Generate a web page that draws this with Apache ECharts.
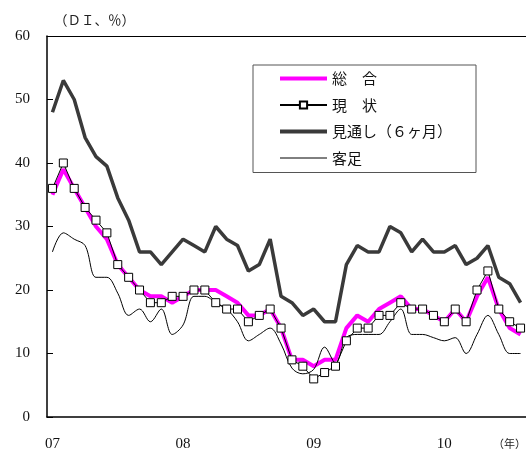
<!DOCTYPE html>
<html><head><meta charset="utf-8">
<script src="https://cdn.jsdelivr.net/npm/echarts@6/dist/echarts.min.js"></script>
<style>html,body{margin:0;padding:0;background:#fff}#c{width:526px;height:452px}</style>
</head><body><div id="c"></div>
<script>
const months = [
 '07-01','07-02','07-03','07-04','07-05','07-06','07-07','07-08','07-09','07-10','07-11','07-12',
 '08-01','08-02','08-03','08-04','08-05','08-06','08-07','08-08','08-09','08-10','08-11','08-12',
 '09-01','09-02','09-03','09-04','09-05','09-06','09-07','09-08','09-09','09-10','09-11','09-12',
 '10-01','10-02','10-03','10-04','10-05','10-06','10-07','10-08'];
const sogo   = [35,39,36,33,30,28,24,22,20,19,19,18,19,20,20,20,19,18,16,16,17,14,9,9,8,9,9,14,16,15,17,18,19,17,17,16,15,17,15,19,22,17,14,13];
const genjo  = [36,40,36,33,31,29,24,22,20,18,18,19,19,20,20,18,17,17,15,16,17,14,9,8,6,7,8,12,14,14,16,16,18,17,17,16,15,17,15,20,23,17,15,14];
const mitoshi= [48,53,50,44,41,39.5,34.5,31,26,26,24,26,28,27,26,30,28,27,23,24,28,19,18,16,17,15,15,24,27,26,26,30,29,26,28,26,26,27,24,25,27,22,21,18];
const kyakuashi=[26,29,28,27,22,22,19.5,16,17,15,17,13,14.5,19,19,18,17,15,12,13,14,11.5,7.7,6.8,7.5,11,8.5,12.5,13,13,13,15,17,13,13,12.5,12,12.5,10,13,16,13,10,10];
const yTicks = [0,10,20,30,40,50,60];
const names = ['総　合','現　状','見通し（６ヶ月）','客足'];

const chart = echarts.init(document.getElementById('c'), null, {renderer:'canvas'});
const serif = '"Liberation Serif","DejaVu Serif",serif';
const cjk = '"Noto Sans CJK JP","Noto Sans CJK SC",sans-serif';
chart.setOption({
  animation:false,
  backgroundColor:'#fff',
  grid:{left:47,top:36,right:0,bottom:35},
  legend:{
    left:253, top:65, orient:'vertical',
    data:[
      {name:names[0], itemStyle:{opacity:0}, lineStyle:{width:4, color:'#ff00ff'}},
      {name:names[1]},
      {name:names[2], itemStyle:{opacity:0}, lineStyle:{width:4, color:'#3a3a3a'}},
      {name:names[3], itemStyle:{opacity:0}, lineStyle:{width:1, color:'#000'}}
    ],
    itemWidth:47, itemHeight:9, itemGap:11.5,
    padding:[6,24,7,25],
    backgroundColor:'#fff', borderColor:'#555', borderWidth:1,
    textStyle:{fontFamily:cjk, fontSize:15, color:'#111'}
  },
  xAxis:[{
    type:'category', data:months, boundaryGap:true,
    axisLine:{lineStyle:{color:'#000',width:1.5}},
    axisTick:{interval:11, length:5, lineStyle:{color:'#000'}},
    axisLabel:{interval:11, margin:20, fontFamily:serif, fontSize:15, color:'#111',
      formatter:v=>v.slice(0,2)},
    splitLine:{show:false}
  },{
    type:'category', data:months, position:'top', boundaryGap:true,
    axisLine:{lineStyle:{color:'#000',width:1.2}},
    axisTick:{show:false}, axisLabel:{show:false}
  }],
  yAxis:{
    type:'value', min:yTicks[0], max:yTicks[yTicks.length-1], interval:10,
    axisLine:{show:true, lineStyle:{color:'#000',width:1.5}},
    axisTick:{show:true, inside:true, length:6, lineStyle:{color:'#000'}},
    axisLabel:{margin:17, fontFamily:serif, fontSize:15, color:'#111'},
    splitLine:{show:false}
  },
  graphic:[
    {type:'text', left:54, top:13, style:{text:'（ＤＩ、％）', font:'13.5px '+cjk, fill:'#222'}},
    {type:'text', right:0, top:438, style:{text:'（年）', font:'11px '+cjk, fill:'#222'}}
  ],
  series:[
    {name:names[0], type:'line', data:sogo, symbol:'none', z:2,
     lineStyle:{color:'#ff00ff', width:4}, itemStyle:{color:'#ff00ff'}},
    {name:names[2], type:'line', data:mitoshi, symbol:'none', z:3,
     lineStyle:{color:'#3a3a3a', width:3.5}, itemStyle:{color:'#3a3a3a'}},
    {name:names[3], type:'line', data:kyakuashi, symbol:'none', smooth:0.35, z:4,
     lineStyle:{color:'#000', width:1}, itemStyle:{color:'#000'}},
    {name:names[1], type:'line', data:genjo, symbol:'rect', symbolSize:8, showAllSymbol:true, z:5,
     lineStyle:{color:'#000', width:1},
     itemStyle:{color:'#fff', borderColor:'#000', borderWidth:1}}
  ]
});
</script></body></html>
